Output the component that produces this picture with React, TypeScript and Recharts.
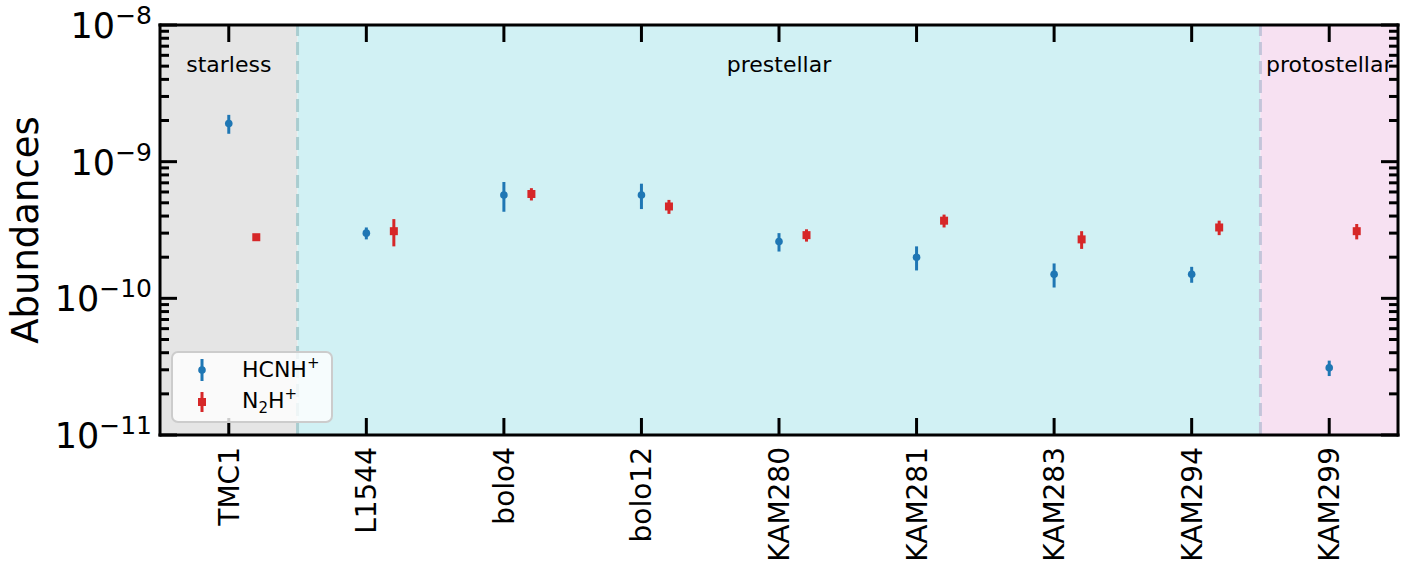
import {
  ScatterChart,
  Scatter,
  XAxis,
  YAxis,
  ErrorBar,
  ReferenceArea,
  ReferenceLine,
  Legend,
} from 'recharts';

// Cores along the x axis, one slot each
const cores = ['TMC1', 'L1544', 'bolo4', 'bolo12', 'KAM280', 'KAM281', 'KAM283', 'KAM294', 'KAM299'];

// HCNH+ abundances and 1-sigma errors
const hcnhAbundance = [1.9e-9, 3.0e-10, 5.7e-10, 5.7e-10, 2.6e-10, 2.0e-10, 1.5e-10, 1.5e-10, 3.1e-11];
const hcnhError = [0.3e-9, 0.3e-10, 1.4e-10, 1.2e-10, 0.4e-10, 0.4e-10, 0.3e-10, 0.2e-10, 0.4e-11];

// N2H+ abundances and 1-sigma errors
const n2hAbundance = [2.8e-10, 3.1e-10, 5.8e-10, 4.7e-10, 2.9e-10, 3.7e-10, 2.7e-10, 3.3e-10, 3.1e-10];
const n2hError = [0.1e-10, 0.7e-10, 0.6e-10, 0.55e-10, 0.3e-10, 0.4e-10, 0.4e-10, 0.4e-10, 0.4e-10];

// Evolutionary stages and the slot edges between them
const stageNames = ['starless', 'prestellar', 'protostellar'];
const stageEdges = [-0.5, 0.5, 7.5, 8.5];

// Decades shown on the log axis
const decades = [1e-11, 1e-10, 1e-9, 1e-8];

const FONT = '"DejaVu Sans", sans-serif';
const BLUE = '#1f77b4';
const RED = '#d62728';
const stageFills = ['#e5e5e5', '#d1f1f4', '#f7e1f2'];
const edgeColors = ['#a9cdd0', '#c4c5da'];
const N2H_SHIFT = 0.2;

const minorTicks = decades
  .slice(0, -1)
  .flatMap((d) => [2, 3, 4, 5, 6, 7, 8, 9].map((k) => k * d));
const yTicks = [...decades, ...minorTicks].sort((a, b) => a - b);
const xTicks = cores.map((_, i) => i);
const xDomain = [stageEdges[0], stageEdges[stageEdges.length - 1]];
const yDomain = [decades[0], decades[decades.length - 1]];

const hcnhRows = cores.map((name, i) => ({ name, pos: i, value: hcnhAbundance[i], err: hcnhError[i] }));
const n2hRows = cores.map((name, i) => ({ name, pos: i + N2H_SHIFT, value: n2hAbundance[i], err: n2hError[i] }));

const isMajor = (v: number) => decades.includes(v);
const spine = { stroke: '#000', strokeWidth: 3, strokeLinecap: 'square' as const };

function LeftTick({ x, y, payload }: any) {
  const major = isMajor(payload.value);
  const exp = Math.round(Math.log10(payload.value));
  return (
    <g>
      <line x1={x} x2={x + (major ? 17 : 9)} y1={y} y2={y} stroke="#000" strokeWidth={3} />
      {major && (
        <text x={x - 8} y={y + 13} textAnchor="end" fontSize={35} fill="#000">
          10
          <tspan dy={-14} fontSize={25}>
            {'\u2212' + Math.abs(exp)}
          </tspan>
        </text>
      )}
    </g>
  );
}

function RightTick({ x, y, payload }: any) {
  const major = isMajor(payload.value);
  return <line x1={x} x2={x - (major ? 17 : 9)} y1={y} y2={y} stroke="#000" strokeWidth={3} />;
}

function BottomTick({ x, y, payload }: any) {
  return (
    <g>
      <line x1={x} x2={x} y1={y} y2={y - 17} stroke="#000" strokeWidth={3} />
      <text
        transform={`translate(${x + 10},${y + 12}) rotate(-90)`}
        textAnchor="end"
        fontSize={28}
        fill="#000"
      >
        {cores[payload.value]}
      </text>
    </g>
  );
}

function TopTick({ x, y }: any) {
  return <line x1={x} x2={x} y1={y} y2={y + 17} stroke="#000" strokeWidth={3} />;
}

function YTitle() {
  return (
    <text transform="translate(38,230) rotate(-90)" textAnchor="middle" fontSize={37} fill="#000">
      Abundances
    </text>
  );
}

const CircleMark = ({ cx, cy }: any) => <circle cx={cx} cy={cy} r={3.8} fill={BLUE} />;
const SquareMark = ({ cx, cy }: any) => <rect x={cx - 4} y={cy - 4} width={8} height={8} fill={RED} />;

function LegendBox() {
  return (
    <svg width={162} height={72} style={{ fontFamily: FONT, display: 'block' }}>
      <rect x={1} y={1} width={160} height={70} rx={6} fill="#fff" fillOpacity={0.8} stroke="#cccccc" strokeWidth={2} />
      <line x1={31} x2={31} y1={8} y2={30} stroke={BLUE} strokeWidth={3} />
      <circle cx={31} cy={19} r={3.8} fill={BLUE} />
      <text x={71} y={26} fontSize={22} fill="#000">
        HCNH
        <tspan dy={-9} fontSize={15}>+</tspan>
      </text>
      <line x1={31} x2={31} y1={41} y2={61} stroke={RED} strokeWidth={3} />
      <rect x={27} y={47} width={8} height={8} fill={RED} />
      <text x={71} y={57} fontSize={22} fill="#000">
        N
        <tspan dy={5} fontSize={15}>2</tspan>
        <tspan dy={-5}>H</tspan>
        <tspan dy={-9} fontSize={15}>+</tspan>
      </text>
    </svg>
  );
}

export default function App() {
  return (
    <div style={{ position: 'absolute', left: 0, top: 0, fontFamily: FONT }}>
      <ScatterChart
        width={1423}
        height={561}
        margin={{ top: 24, right: 24, bottom: 0, left: 0 }}
        style={{ fontFamily: FONT }}
      >
        {stageNames.map((name, i) => (
          <ReferenceArea
            key={name}
            x1={stageEdges[i]}
            x2={stageEdges[i + 1]}
            fill={stageFills[i]}
            fillOpacity={1}
            stroke="none"
            label={{ value: name, position: 'insideTop', offset: 31, fontSize: 22, fill: '#000' }}
          />
        ))}
        {stageEdges.slice(1, -1).map((edge, i) => (
          <ReferenceLine key={edge} x={edge} stroke={edgeColors[i]} strokeWidth={3} strokeDasharray="13 6" />
        ))}

        <XAxis
          type="number"
          dataKey="pos"
          domain={xDomain}
          ticks={xTicks}
          interval={0}
          height={126}
          tickSize={0}
          tickMargin={0}
          tickLine={false}
          tick={<BottomTick />}
          axisLine={spine}
          allowDataOverflow
        />
        {/* twin axis on top, same slots, ticks only */}
        <XAxis
          xAxisId="top"
          orientation="top"
          type="number"
          dataKey="pos"
          domain={xDomain}
          ticks={xTicks}
          interval={0}
          height={1}
          tickSize={0}
          tickMargin={0}
          tickLine={false}
          tick={<TopTick />}
          axisLine={spine}
          allowDataOverflow
        />
        <YAxis
          type="number"
          dataKey="value"
          scale="log"
          domain={yDomain}
          ticks={yTicks}
          interval={0}
          width={160}
          tickSize={0}
          tickMargin={0}
          tickLine={false}
          tick={<LeftTick />}
          axisLine={spine}
          label={<YTitle />}
          allowDataOverflow
        />
        {/* twin log axis on the right, same range, ticks only */}
        <YAxis
          yAxisId="right"
          orientation="right"
          type="number"
          dataKey="value"
          scale="log"
          domain={yDomain}
          ticks={yTicks}
          interval={0}
          width={1}
          tickSize={0}
          tickMargin={0}
          tickLine={false}
          tick={<RightTick />}
          axisLine={spine}
          allowDataOverflow
        />

        <Scatter name="HCNH+" data={hcnhRows} dataKey="value" fill={BLUE} shape={<CircleMark />} isAnimationActive={false}>
          <ErrorBar dataKey="err" direction="y" width={0} stroke={BLUE} strokeWidth={3} />
        </Scatter>
        <Scatter
          name="N2H+"
          data={n2hRows}
          dataKey="value"
          xAxisId="top"
          yAxisId="right"
          fill={RED}
          shape={<SquareMark />}
          isAnimationActive={false}
        >
          <ErrorBar dataKey="err" direction="y" width={0} stroke={RED} strokeWidth={3} />
        </Scatter>

        <Legend
          verticalAlign="middle"
          align="center"
          content={<LegendBox />}
          wrapperStyle={{ left: 171, top: 351, width: 162, height: 72 }}
        />
      </ScatterChart>
    </div>
  );
}
